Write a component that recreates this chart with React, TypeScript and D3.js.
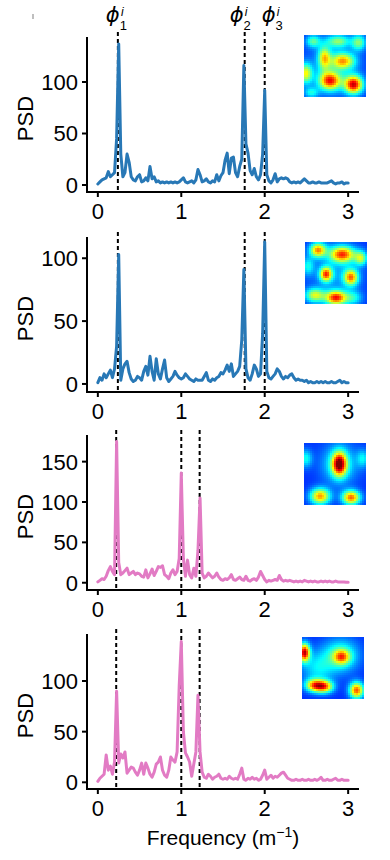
import * as d3 from "d3";

// PSD samples, one value every 0.025 m^-1 from 0 to 3
const freqStep = 0.025;

const psdGrid1 = [
  1, 3, 5, 6, 7, 13, 8, 10, 12, 45,
  137, 30, 8, 12, 30, 22, 8, 5, 4, 8,
  10, 3, 4, 7, 4, 18, 6, 8, 3, 4,
  2, 3, 2, 3, 2, 3, 2, 3, 2, 3,
  5, 7, 3, 2, 3, 4, 2, 5, 15, 10,
  3, 4, 6, 3, 2, 4, 3, 10, 4, 9,
  12, 24, 31, 11, 26, 27, 12, 8, 18, 25,
  116, 40, 31, 14, 10, 16, 8, 5, 10, 30,
  92, 10, 4, 2, 5, 11, 3, 6, 7, 6,
  7, 6, 3, 2, 3, 2, 3, 2, 4, 6,
  4, 2, 2, 3, 2, 2, 3, 2, 2, 2,
  2, 3, 4, 2, 1, 2, 2, 3, 1, 2,
  2,
];

const psdGrid2 = [
  1, 5, 3, 8, 5, 8, 11, 5, 12, 30,
  103, 3, 12, 16, 18, 9, 4, 2, 3, 6,
  5, 3, 10, 14, 7, 22, 10, 3, 20, 8,
  4, 12, 19, 5, 2, 4, 6, 10, 7, 5,
  4, 5, 8, 6, 4, 3, 2, 4, 3, 3,
  3, 6, 9, 3, 2, 4, 3, 5, 6, 9,
  8, 11, 15, 10, 16, 6, 8, 10, 14, 35,
  91, 12, 5, 3, 8, 15, 12, 6, 8, 40,
  113, 10, 5, 4, 6, 8, 12, 10, 6, 4,
  6, 5, 7, 8, 5, 3, 4, 3, 3, 2,
  3, 1, 2, 1, 1, 2, 1, 2, 1, 2,
  1, 1, 2, 1, 1, 2, 3, 1, 2, 1,
  1,
];

const psdPlace1 = [
  1, 3, 5, 4, 8, 15, 20, 14, 10, 175,
  25, 10, 12, 15, 18, 10, 12, 14, 10, 12,
  11, 8, 7, 16, 6, 11, 17, 9, 14, 20,
  19, 21, 10, 8, 5, 12, 16, 10, 14, 30,
  136, 30, 8, 28, 10, 6, 18, 8, 40, 105,
  12, 6, 8, 12, 9, 6, 8, 12, 7, 4,
  3, 5, 4, 6, 10, 4, 3, 5, 7, 4,
  3, 8, 3, 2, 4, 5, 3, 7, 14, 9,
  4, 1, 3, 2, 3, 4, 3, 9, 4, 2,
  3, 2, 3, 2, 1, 2, 1, 2, 1, 3,
  2, 1, 2, 1, 2, 1, 1, 2, 1, 2,
  1, 2, 1, 1, 2, 1, 1, 1, 1, 0.5,
  0.5,
];

const psdPlace2 = [
  1, 4, 6, 8, 27, 12, 16, 8, 20, 90,
  19, 28, 24, 30, 9, 12, 15, 14, 10, 7,
  12, 19, 8, 19, 14, 8, 5, 10, 18, 20,
  25, 12, 7, 5, 12, 25, 22, 20, 30, 95,
  139, 50, 29, 25, 20, 6, 18, 30, 86, 30,
  10, 5, 4, 8, 6, 3, 5, 6, 8, 4,
  3, 4, 3, 6, 4, 3, 4, 3, 8, 14,
  3, 2, 4, 3, 5, 3, 4, 2, 3, 7,
  12, 3, 5, 7, 4, 6, 5, 7, 9, 10,
  7, 4, 3, 2, 2, 3, 2, 2, 3, 2,
  2, 3, 2, 2, 3, 2, 3, 5, 2, 2,
  3, 2, 2, 3, 4, 2, 2, 3, 2, 2,
  2,
];

const phiGrid = [0.24, 1.76, 2.0];
const phiPlace = [0.22, 1.0, 1.22];
const phiSubs = ["1", "2", "3"];
const xTicks = [0, 1, 2, 3];

// rate-map fields: [cx, cy, peak, sx, sy] in unit-square coords
const mapGrid1 = [
  [0.15, 0.1, 0.28, 0.08, 0.07],
  [0.55, 0.1, 0.32, 0.13, 0.07],
  [0.88, 0.12, 0.32, 0.08, 0.09],
  [0.33, 0.37, 0.42, 0.07, 0.13],
  [0.63, 0.42, 0.48, 0.13, 0.09],
  [0.03, 0.62, 0.42, 0.07, 0.11],
  [0.42, 0.74, 0.62, 0.12, 0.1],
  [0.8, 0.8, 0.72, 0.1, 0.1],
  [0.12, 0.93, 0.2, 0.08, 0.06],
  [0.45, 0.55, 0.12, 0.3, 0.3],
];
const mapGrid2 = [
  [0.21, 0.13, 0.55, 0.09, 0.08],
  [0.6, 0.2, 0.62, 0.14, 0.09],
  [0.9, 0.26, 0.36, 0.07, 0.08],
  [0.34, 0.52, 0.6, 0.07, 0.08],
  [0.74, 0.57, 0.55, 0.08, 0.09],
  [0.16, 0.86, 0.4, 0.11, 0.08],
  [0.5, 0.9, 0.66, 0.12, 0.08],
  [0.05, 0.39, 0.2, 0.07, 0.1],
  [0.78, 0.9, 0.2, 0.1, 0.08],
  [0.5, 0.5, 0.1, 0.3, 0.3],
];
const mapPlace1 = [
  [0.57, 0.34, 0.7, 0.08, 0.13],
  [0.57, 0.34, 0.22, 0.2, 0.22],
  [0.26, 0.86, 0.55, 0.11, 0.09],
  [0.76, 0.88, 0.6, 0.1, 0.08],
  [0.03, 0.25, 0.22, 0.07, 0.1],
  [0.95, 0.25, 0.18, 0.07, 0.1],
];
const mapPlace2 = [
  [0.04, 0.25, 0.75, 0.06, 0.1],
  [0.62, 0.3, 0.28, 0.2, 0.18],
  [0.64, 0.32, 0.4, 0.09, 0.08],
  [0.2, 0.78, 0.52, 0.1, 0.07],
  [0.36, 0.8, 0.55, 0.1, 0.07],
  [0.88, 0.86, 0.62, 0.08, 0.09],
  [0.25, 0.5, 0.18, 0.18, 0.18],
];

const blue = "#2878b6";
const pink = "#e27bc4";

const panels = [
  { data: psdGrid1, color: blue, yDomain: [-6.8, 143.7], yTicks: [0, 50, 100], phis: phiGrid, top: 37, map: mapGrid1, mapX: 304, mapDy: -2, labels: true },
  { data: psdGrid2, color: blue, yDomain: [-6.4, 116.9], yTicks: [0, 50, 100], phis: phiGrid, top: 237, map: mapGrid2, mapX: 305, mapDy: 5, labels: false },
  { data: psdPlace1, color: pink, yDomain: [-9, 183], yTicks: [0, 50, 100, 150], phis: phiPlace, top: 435, map: mapPlace1, mapX: 304, mapDy: 8, labels: false },
  { data: psdPlace2, color: pink, yDomain: [-6.6, 146.4], yTicks: [0, 50, 100], phis: phiPlace, top: 634, map: mapPlace2, mapX: 302, mapDy: 3, labels: false },
];

const labelDx = [-12, -15, -3];
const panelH = 155;
const mapSize = 62;
const mapN = 31;

const jet = d3
  .scaleLinear<string>()
  .domain([0, 0.125, 0.375, 0.625, 0.875, 1])
  .range(["#00007f", "#0000ff", "#00ffff", "#ffff00", "#ff0000", "#7f0000"])
  .clamp(true);

function RateMap({ fields, x0, y0 }: { fields: number[][]; x0: number; y0: number }) {
  const cell = mapSize / mapN;
  const cells: JSX.Element[] = [];
  for (let j = 0; j < mapN; j++) {
    for (let i = 0; i < mapN; i++) {
      const u = (i + 0.5) / mapN;
      const v = (j + 0.5) / mapN;
      let val = 0.17;
      fields.forEach(([cx, cy, a, sx, sy]) => {
        val += a * Math.exp(-((u - cx) ** 2) / (2 * sx * sx) - ((v - cy) ** 2) / (2 * sy * sy));
      });
      cells.push(
        <rect key={`${i}-${j}`} x={x0 + i * cell} y={y0 + j * cell} width={cell + 0.4} height={cell + 0.4} fill={jet(Math.min(val, 1))} />
      );
    }
  }
  return <g shapeRendering="crispEdges">{cells}</g>;
}

export default function App() {
  const x = d3.scaleLinear().domain([-0.13, 3.13]).range([87, 359]);
  const x0 = x.range()[0];
  const x1 = x.range()[1];
  const font = "'Liberation Sans', Arial, Helvetica, sans-serif";

  return (
    <svg width={390} height={860} style={{ position: "absolute", left: 0, top: 0, background: "#fff" }} fontFamily={font}>
      <line x1={33} x2={33} y1={14} y2={19} stroke="#aaa" strokeWidth={1.5} />
      {panels.map((p, pi) => {
        const bottom = p.top + panelH;
        const y = d3.scaleLinear().domain(p.yDomain).range([bottom, p.top]);
        const line = d3
          .line<number>()
          .x((_, i) => x(i * freqStep))
          .y((d) => y(d));
        return (
          <g key={pi}>
            {p.phis.map((f, k) => (
              <line key={k} x1={x(f)} x2={x(f)} y1={p.top - 5} y2={bottom} stroke="#000" strokeWidth={2} strokeDasharray="4,3" />
            ))}
            <path d={line(p.data) || ""} fill="none" stroke={p.color} strokeWidth={3} strokeLinejoin="round" strokeLinecap="round" />
            <RateMap fields={p.map} x0={p.mapX} y0={p.top + p.mapDy} />
            <path d={`M${x0},${p.top}V${bottom}H${x1}`} fill="none" stroke="#000" strokeWidth={2} />
            {p.yTicks.map((t) => (
              <g key={t}>
                <line x1={x0 - 5} x2={x0} y1={y(t)} y2={y(t)} stroke="#000" strokeWidth={2} />
                <text x={x0 - 9} y={y(t)} dy="0.36em" textAnchor="end" fontSize={22} fill="#000">
                  {t}
                </text>
              </g>
            ))}
            {xTicks.map((t) => (
              <g key={t}>
                <line x1={x(t)} x2={x(t)} y1={bottom} y2={bottom + 5} stroke="#000" strokeWidth={2} />
                <text x={x(t)} y={bottom + 27} textAnchor="middle" fontSize={22} fill="#000">
                  {t}
                </text>
              </g>
            ))}
            <text transform={`translate(33,${p.top + panelH / 2 + 4}) rotate(-90)`} textAnchor="middle" fontSize={22} fill="#000">
              PSD
            </text>
            {p.labels &&
              p.phis.map((f, k) => {
                const lx = x(f) + labelDx[k];
                return (
                  <text key={`l${k}`} x={lx} y={22} fontSize={21} fill="#000">
                    <tspan fontStyle="italic" fontFamily="'DejaVu Sans', sans-serif">ϕ</tspan>
                    <tspan fontSize={13} dy={8}>{phiSubs[k]}</tspan>
                    <tspan fontSize={12} fontStyle="italic" dx={-6} dy={-14}>i</tspan>
                  </text>
                );
              })}
          </g>
        );
      })}
      <text x={(x0 + x1) / 2} y={845} textAnchor="middle" fontSize={21} fill="#000">
        Frequency (m
        <tspan fontSize={14} dy={-8}>−1</tspan>
        <tspan dy={8}>)</tspan>
      </text>
    </svg>
  );
}
